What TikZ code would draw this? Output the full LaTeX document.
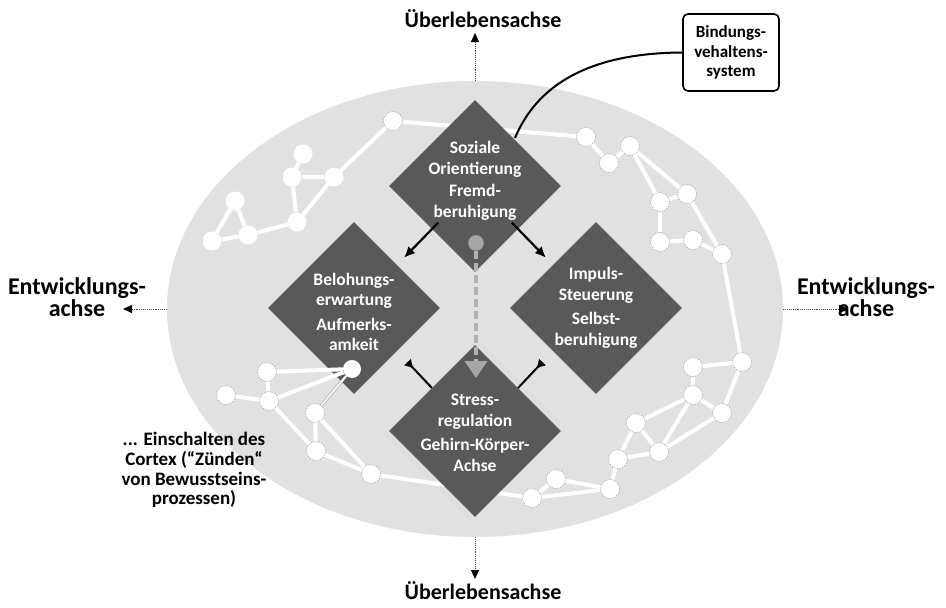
\documentclass[tikz,border=0pt]{standalone}
\usepackage{fontspec}
\setmainfont{Carlito}
\usetikzlibrary{shapes.geometric,arrows.meta,calc}
\definecolor{ellgray}{RGB}{225,225,225}
\definecolor{diagray}{RGB}{89,89,89}
\definecolor{dashgray}{RGB}{178,178,178}
\definecolor{gcgray}{RGB}{166,166,166}
\begin{document}
\begin{tikzpicture}[x=1pt,y=-1pt,
  wn/.style={circle,fill=white,draw=gray!75,dash pattern=on 1.5pt off 1.2pt,line width=0.5pt,minimum size=19pt,inner sep=0pt},
  wp/.style={circle,fill=white,minimum size=19pt,inner sep=0pt},
  wl/.style={draw=white,line width=4pt},
  dia/.style={diamond,fill=diagray,minimum width=172pt,minimum height=172pt,inner sep=0pt},
  dtext/.style={text=white,align=center,font=\bfseries\fontsize{17.5}{20.5}\selectfont},
  ax/.style={draw=gray!55!black,densely dotted,line width=0.9pt,-{Triangle[length=9pt,width=8pt,color=black]}},
  axl/.style={align=center,font=\bfseries\fontsize{22}{21.5}\selectfont},
  axs/.style={align=center,font=\bfseries\fontsize{24}{22}\selectfont},
  blk/.style={line width=2.2pt,-{Latex[length=11pt,width=10pt]}},
  tee/.style={line width=2pt,-{Latex[reversed,length=9pt,width=10pt]}},
  bx/.style={draw=black,line width=1.6pt,rounded corners=5pt,fill=white,minimum width=96pt,minimum height=77pt,align=center,inner sep=0pt,font=\bfseries\fontsize{17}{19.5}\selectfont},
  capt/.style={align=center,font=\bfseries\fontsize{19}{19.8}\selectfont}
]
\useasboundingbox (0,0) rectangle (946,608);

% background ellipse
\node[ellipse,fill=ellgray,minimum width=616pt,minimum height=456pt,inner sep=0pt] (ell) at (475,309) {};

% axis arrows
\coordinate (tTop) at (475,33);
\coordinate (tBot) at (475,579);
\coordinate (tLeft) at (123,309);
\coordinate (tRight) at (848,309);
\draw[ax] (ell.north) -- (tTop);
\draw[ax] (ell.south) -- (tBot);
\draw[ax] (ell.west) -- (tLeft);
\draw[ax] (ell.east) -- (tRight);

% white network nodes
\node[wn] (A1) at (393,121) {};
\node[wp] (A2) at (334,177) {};
\node[wp] (A3) at (292,177) {};
\node[wp] (A4) at (303,154) {};
\node[wp] (A5) at (297,222) {};
\node[wp] (A6) at (248,235) {};
\node[wp] (A7) at (235,201) {};
\node[wp] (A8) at (212,241) {};

\node[wn] (R1) at (586,137) {};
\node[wn] (R2) at (609,163) {};
\node[wn] (R3) at (630,146) {};
\node[wn] (R4) at (660,202) {};
\node[wn] (R5) at (687,194) {};
\node[wn] (R6) at (660,242) {};
\node[wn] (R7) at (693,240) {};
\node[wn] (R8) at (722,254) {};
\node[wn] (R9) at (742,362) {};
\node[wn] (R10) at (693,367) {};
\node[wn] (R11) at (693,395) {};
\node[wn] (R12) at (722,413) {};
\node[wn] (R13) at (636,423) {};
\node[wn] (R14) at (659,452) {};
\node[wn] (R15) at (618,459) {};
\node[wn] (R16) at (610,489) {};
\node[wn] (B1) at (556,479) {};
\node[wn] (B2) at (532,498) {};

\node[wn] (L1) at (267,372) {};
\node[wn] (L2) at (226,395) {};
\node[wn] (L3) at (269,401) {};
\node[wn] (L5) at (315,413) {};
\node[wn] (L6) at (316,451) {};
\node[wn] (L7) at (371,474) {};

% white edges
\foreach \a/\b in {A1/A2,A2/A3,A3/A4,A3/A5,A2/A5,A5/A6,A6/A7,A6/A8,A7/A8,A1/R1,
  R1/R2,R2/R3,R3/R4,R3/R5,R4/R5,R5/R8,R4/R6,R6/R7,R7/R8,R8/R9,R9/R10,R10/R11,R9/R12,R11/R12,
  R11/R13,R11/R14,R12/R14,R13/R14,R13/R15,R14/R15,R15/R16,R16/B1,R16/B2,B1/B2,B2/L7,
  L1/L3,L2/L3,L3/L6,L5/L6,L5/L7,L6/L7}
  \draw[wl] (\a) -- (\b);

% diamonds
\node[dia] (soz) at (475,186) {};
\node[dia] (bel) at (354,308) {};
\node[dia] (imp) at (596,308) {};
\node[dia] (str) at (475,431) {};
\node[dtext] (sozt) at (475,181) {Soziale\\Orientierung\\[2pt]Fremd-\\beruhigung};
\node[dtext] (belt) at (354,312) {Belohungs-\\erwartung\\[4pt]Aufmerks-\\amkeit};
\node[dtext] (impt) at (596,308) {Impuls-\\Steuerung\\[4pt]Selbst-\\beruhigung};
\node[dtext] (strt) at (475,433) {Stress-\\regulation\\[4pt]Gehirn-Körper-\\Achse};

% node on left diamond
\node[circle,fill=white,minimum size=18pt,inner sep=0pt] (L4) at (352,369) {};
\draw[wl] (L1) -- (L4);
\draw[wl] (L3) -- (L4);
\draw[draw=gray!70,line width=0.6pt,double=white,double distance=1.6pt] (L4) -- (L5);

% black arrows
\draw[blk] ($(soz.south west)!-0.18!(bel.north east)$) -- ($(bel.north east)!0.2!(soz.south west)$);
\draw[blk] ($(soz.south east)!-0.18!(imp.north west)$) -- ($(imp.north west)!0.2!(soz.south east)$);
\draw[tee] (str.north west) -- ($(str.north west)!0.7!(bel.south east)$);
\draw[tee] (str.north east) -- ($(str.north east)!0.7!(imp.south west)$);

% grey dashed arrow
\node[circle,fill=gcgray,draw=gray!85!black,line width=0.5pt,minimum size=16pt,inner sep=0pt] (gc) at (476,243) {};
\coordinate (gt) at (476,378);
\draw[draw=dashgray,line width=4pt,dash pattern=on 8pt off 4pt,-{Triangle[length=17pt,width=22pt,color=gcgray]}] (gc.south) -- (gt);

% Bindungsverhaltenssystem box
\node[bx] (bvs) at (731,52.5) {Bindungs-\\vehaltens-\\system};
\coordinate (bend) at (515,138);
\draw[line width=2pt] (bvs.west) .. controls (600,53) and (540,78) .. (bend);

% axis labels
\node[axl,anchor=base] (ltop) at (483,27) {Überlebensachse};
\node[axl,anchor=base] (lbot) at (483,599) {Überlebensachse};
\node[axs] (lleft) at (77,297) {Entwicklungs-\\achse};
\node[axs] (lright) at (866,297) {Entwicklungs-\\achse};

% caption
\node[capt] (cap) at (194,470) {... Einschalten des\\Cortex (“Zünden“\\von Bewusstseins-\\prozessen)};
\end{tikzpicture}
\end{document}
